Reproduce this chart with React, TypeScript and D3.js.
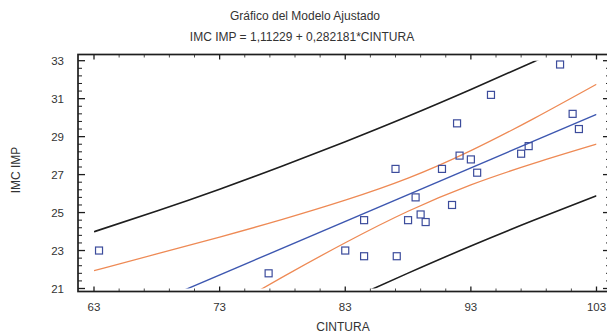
import React from "react";
import * as d3 from "d3";

// ── Data ──────────────────────────────────────────────────────
const CINTURA = [
  63.4, 76.9, 83.0, 84.5, 84.5, 87.0, 87.1, 88.0, 88.6, 89.0, 89.4, 90.7,
  91.5, 91.9, 92.1, 93.0, 93.5, 94.6, 97.0, 97.6, 100.1, 101.1, 101.6,
];
const IMC_IMP = [
  23.0, 21.8, 23.0, 22.7, 24.6, 27.3, 22.7, 24.6, 25.8, 24.9, 24.5, 27.3,
  25.4, 29.7, 28.0, 27.8, 27.1, 31.2, 28.1, 28.5, 32.8, 30.2, 29.4,
];

// fitted model from the title
const INTERCEPT = 1.11229;
const SLOPE = 0.282181;

// band curves sampled at these x values
const BAND_X = [63, 68, 73, 78, 83, 88, 93, 98, 103];
const CONF_UPPER = [21.94, 22.82, 23.71, 24.64, 25.65, 26.81, 28.26, 29.95, 31.76];
const CONF_LOWER = [15.84, 17.78, 19.71, 21.6, 23.41, 25.07, 26.46, 27.59, 28.6];
const PRED_UPPER = [23.99, 25.08, 26.23, 27.45, 28.73, 30.07, 31.48, 32.95, 34.48];
const PRED_LOWER = [13.79, 15.52, 17.19, 18.79, 20.33, 21.81, 23.24, 24.59, 25.88];

const X_TICKS = [63, 73, 83, 93, 103];
const Y_TICKS = [21, 23, 25, 27, 29, 31, 33];

// ── Geometry ─────────────────────────────────────────────────
const W = 607;
const H = 336;
const FRAME = { left: 78, right: 610, top: 54.5, bottom: 291.5 };
const FONT = "'Liberation Sans', Arial, sans-serif";

const x = d3.scaleLinear().domain([63, 103]).range([94, 596.5]);
const y = d3.scaleLinear().domain([21, 33]).range([288.5, 60.7]);

const BLACK = "#1e1e1e";
const ORANGE = "#ee8a55";
const BLUE = "#3d57b0";
const MARK = "#3c4c9c";

export default function App() {
  const band = d3
    .line<number>()
    .x((_d, i) => x(BAND_X[i]))
    .y((d) => y(d))
    .curve(d3.curveNatural);

  const fitX = [63, 103];
  const fitLine = d3
    .line<number>()
    .x((d) => x(d))
    .y((d) => y(INTERCEPT + SLOPE * d));

  const xMinor = d3.range(63, 103.01, 2).filter((v) => !X_TICKS.includes(v));
  const yMinor = d3
    .range(21, 33.01, 0.4)
    .filter((v) => !Y_TICKS.some((t) => Math.abs(t - v) < 0.01));

  return (
    <svg
      width={W}
      height={H}
      style={{ position: "absolute", left: 0, top: 0, background: "#fff" }}
      fontFamily={FONT}
    >
      <defs>
        <clipPath id="plot-clip">
          <rect x={x(63)} y={y(33)} width={x(103) - x(63)} height={y(21) - y(33)} />
        </clipPath>
      </defs>

      {/* Titles */}
      <text x={305} y={20} textAnchor="middle" fontSize={12} fill="#333">
        Gráfico del Modelo Ajustado
      </text>
      <text x={302} y={41} textAnchor="middle" fontSize={12} fill="#333">
        IMC IMP = 1,11229 + 0,282181*CINTURA
      </text>

      {/* Bands and fit */}
      <g clipPath="url(#plot-clip)" fill="none">
        <path d={band(PRED_UPPER) ?? ""} stroke={BLACK} strokeWidth={1.6} />
        <path d={band(PRED_LOWER) ?? ""} stroke={BLACK} strokeWidth={1.6} />
        <path d={band(CONF_UPPER) ?? ""} stroke={ORANGE} strokeWidth={1.3} />
        <path d={band(CONF_LOWER) ?? ""} stroke={ORANGE} strokeWidth={1.3} />
        <path d={fitLine(fitX) ?? ""} stroke={BLUE} strokeWidth={1.4} />
      </g>

      {/* Observations */}
      {CINTURA.map((cx, i) => (
        <rect
          key={i}
          x={x(cx) - 3.5}
          y={y(IMC_IMP[i]) - 3.5}
          width={7}
          height={7}
          fill="none"
          stroke={MARK}
          strokeWidth={1.2}
        />
      ))}

      {/* Frame */}
      <rect
        x={FRAME.left}
        y={FRAME.top}
        width={FRAME.right - FRAME.left}
        height={FRAME.bottom - FRAME.top}
        fill="none"
        stroke={BLACK}
        strokeWidth={1.7}
      />

      {/* Y ticks (inward on both sides) */}
      {Y_TICKS.map((t) => (
        <g key={t}>
          <line x1={FRAME.left} x2={FRAME.left + 7} y1={y(t)} y2={y(t)} stroke={BLACK} strokeWidth={1.3} />
          <line x1={FRAME.right} x2={FRAME.right - 7} y1={y(t)} y2={y(t)} stroke={BLACK} strokeWidth={1.3} />
          <text x={64} y={y(t) + 4} textAnchor="end" fontSize={11.5} fill="#333">
            {t}
          </text>
        </g>
      ))}
      {yMinor.map((t) => (
        <g key={t}>
          <line x1={FRAME.left} x2={FRAME.left + 4} y1={y(t)} y2={y(t)} stroke={BLACK} strokeWidth={1} />
          <line x1={FRAME.right} x2={FRAME.right - 4} y1={y(t)} y2={y(t)} stroke={BLACK} strokeWidth={1} />
        </g>
      ))}

      {/* X ticks (inward on top and bottom) */}
      {X_TICKS.map((t) => (
        <g key={t}>
          <line x1={x(t)} x2={x(t)} y1={FRAME.bottom} y2={FRAME.bottom - 5} stroke={BLACK} strokeWidth={1.3} />
          <line x1={x(t)} x2={x(t)} y1={FRAME.top} y2={FRAME.top + 5} stroke={BLACK} strokeWidth={1.3} />
          <text x={x(t)} y={311} textAnchor="middle" fontSize={11.5} fill="#333">
            {t}
          </text>
        </g>
      ))}
      {xMinor.map((t) => (
        <g key={t}>
          <line x1={x(t)} x2={x(t)} y1={FRAME.bottom} y2={FRAME.bottom - 3} stroke={BLACK} strokeWidth={0.8} />
          <line x1={x(t)} x2={x(t)} y1={FRAME.top} y2={FRAME.top + 3} stroke={BLACK} strokeWidth={0.8} />
        </g>
      ))}

      {/* Axis titles */}
      <text x={343} y={331} textAnchor="middle" fontSize={12} fill="#333">
        CINTURA
      </text>
      <text
        transform="translate(20,170) rotate(-90)"
        textAnchor="middle"
        fontSize={12}
        fill="#333"
      >
        IMC IMP
      </text>
    </svg>
  );
}
